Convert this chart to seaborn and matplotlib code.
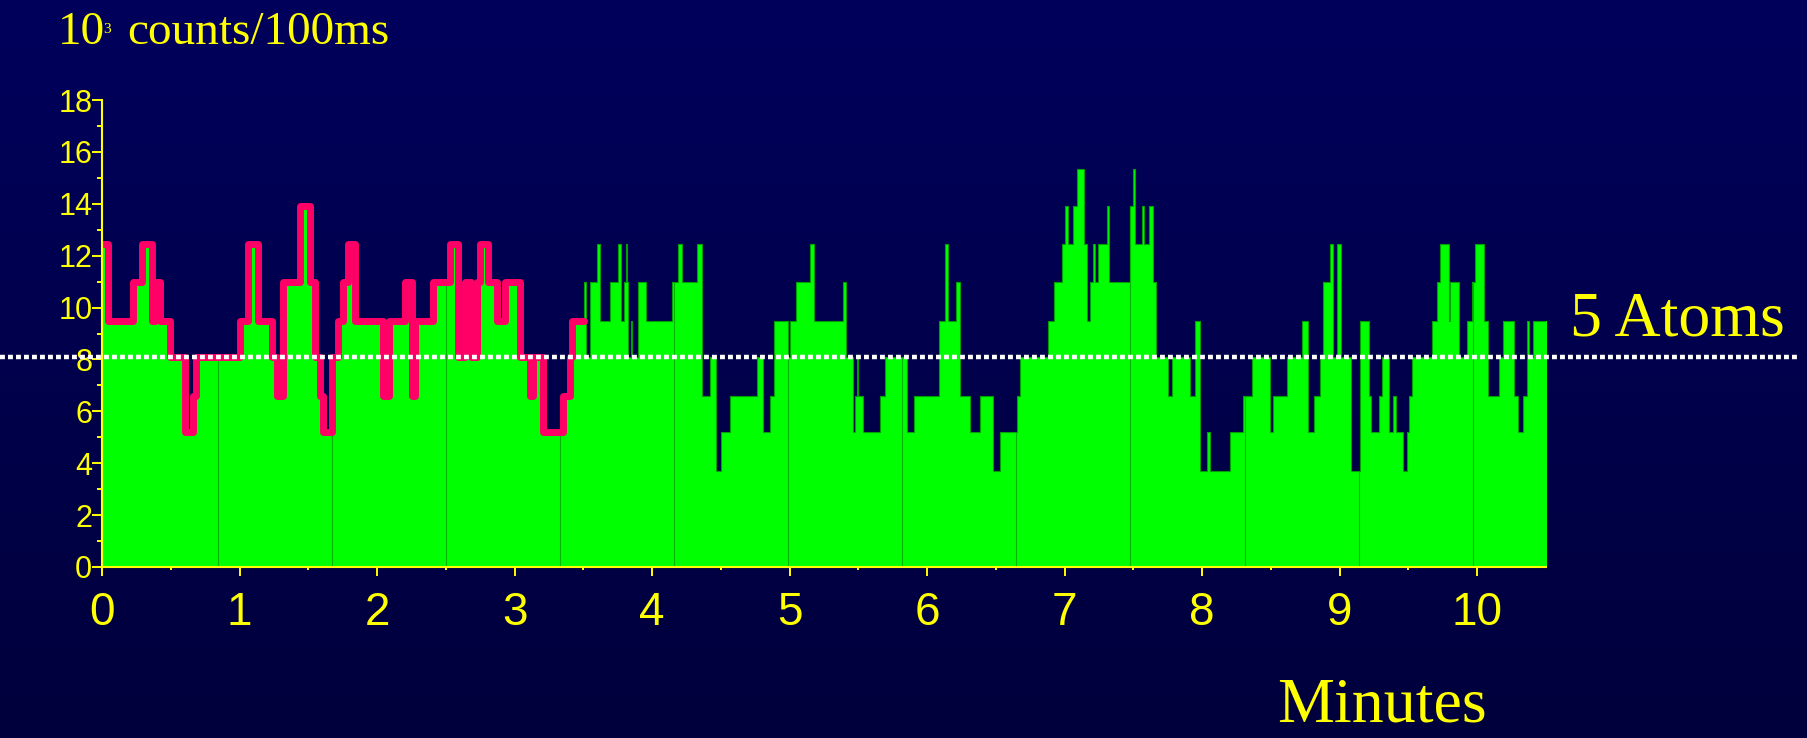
import numpy as np
import pandas as pd
import matplotlib
matplotlib.use("Agg")
import matplotlib.pyplot as plt
import matplotlib.transforms as mtransforms
from matplotlib.colors import LinearSegmentedColormap
import seaborn as sns

# Atom-number record: each segment starts at the given time (minutes)
seg_start = [
    0.000, 0.046, 0.228, 0.288, 0.361, 0.385, 0.422, 0.495, 0.604, 0.664,
    0.681, 1.004, 1.064, 1.137, 1.234, 1.270, 1.319, 1.440, 1.513, 1.549,
    1.585, 1.605, 1.670, 1.719, 1.755, 1.791, 1.840, 2.046, 2.090, 2.204,
    2.251, 2.275, 2.410, 2.531, 2.592, 2.640, 2.680, 2.724, 2.749, 2.810,
    2.870, 2.931, 3.040, 3.113, 3.137, 3.210, 3.355, 3.400, 3.420, 3.505,
    3.520, 3.545, 3.597, 3.620, 3.695, 3.755, 3.772, 3.796, 3.808, 3.815,
    3.827, 3.845, 3.857, 3.900, 3.954, 4.143, 4.190, 4.215, 4.325, 4.361,
    4.420, 4.465, 4.498, 4.567, 4.761, 4.810, 4.858, 4.890, 4.990, 5.000,
    5.050, 5.149, 5.178, 5.391, 5.410, 5.460, 5.476, 5.488, 5.494, 5.532,
    5.658, 5.694, 5.853, 5.901, 6.083, 6.130, 6.155, 6.211, 6.240, 6.313,
    6.385, 6.477, 6.531, 6.652, 6.676, 6.882, 6.923, 6.979, 7.003, 7.027,
    7.064, 7.088, 7.137, 7.161, 7.185, 7.205, 7.222, 7.246, 7.307, 7.326,
    7.472, 7.494, 7.508, 7.561, 7.578, 7.610, 7.641, 7.665, 7.755, 7.780,
    7.913, 7.948, 7.985, 8.033, 8.057, 8.204, 8.300, 8.361, 8.495, 8.514,
    8.616, 8.725, 8.773, 8.810, 8.858, 8.877, 8.931, 8.950, 8.980, 9.010,
    9.085, 9.149, 9.210, 9.227, 9.283, 9.307, 9.355, 9.387, 9.410, 9.459,
    9.488, 9.505, 9.525, 9.670, 9.706, 9.731, 9.792, 9.805, 9.865, 9.925,
    9.960, 9.985, 10.051, 10.080, 10.155, 10.187, 10.265, 10.300, 10.330, 10.360,
    10.380, 10.405,
]
seg_atoms = [
    8, 6, 7, 8, 6, 7, 6, 5, 3, 4,
    5, 6, 8, 6, 5, 4, 7, 9, 7, 5,
    4, 3, 5, 6, 7, 8, 6, 4, 6, 7,
    4, 6, 7, 8, 5, 7, 5, 7, 8, 7,
    6, 7, 5, 4, 5, 3, 4, 5, 6, 7,
    5, 7, 8, 6, 7, 8, 6, 7, 8, 7,
    5, 6, 5, 7, 6, 7, 8, 7, 8, 4,
    5, 2, 3, 4, 5, 3, 4, 6, 5, 6,
    7, 8, 6, 7, 5, 3, 4, 5, 4, 3,
    4, 5, 3, 4, 6, 8, 6, 7, 4, 3,
    4, 2, 3, 4, 5, 6, 7, 8, 9, 8,
    9, 10, 8, 6, 7, 8, 7, 8, 9, 7,
    9, 10, 8, 9, 8, 9, 7, 5, 4, 5,
    4, 6, 2, 3, 2, 3, 4, 5, 3, 4,
    5, 6, 3, 4, 5, 7, 8, 5, 8, 5,
    2, 6, 4, 3, 4, 5, 3, 4, 3, 2,
    3, 4, 5, 6, 7, 8, 6, 7, 5, 6,
    7, 8, 6, 4, 5, 6, 4, 3, 4, 6,
    5, 6,
]
trace_end = 10.507

# Fluorescence level (10^3 counts / 100 ms) for each atom number
atom_numbers = [2, 3, 4, 5, 6, 7, 8, 9, 10]
atom_counts = [3.7, 5.2, 6.6, 8.1, 9.5, 11.0, 12.45, 13.9, 15.35]

fit_end = 3.505          # extent of the step fit shown in pink
threshold = 8.1          # five-atom level
block_marks = [0.844, 1.673, 2.505, 3.333, 4.162, 4.991,
               5.820, 6.649, 7.476, 8.308, 9.137, 9.966]

x_ticks = list(range(0, 11))
x_minor = [k + 0.5 for k in range(0, 10)]
y_ticks = list(range(0, 19, 2))
y_minor = list(range(1, 18, 2))

YELLOW = "#FFFF00"
GREEN = "#00FF00"
PINK = "#FF0066"

sns.set_style("ticks")
plt.rcParams["font.family"] = ["Liberation Sans", "DejaVu Sans"]

# step trace
level_of = dict(zip(atom_numbers, atom_counts))
t = np.array(seg_start + [trace_end])
v = np.array([level_of[n] for n in seg_atoms] + [level_of[seg_atoms[-1]]])
trace = pd.DataFrame({"minutes": t, "counts": v})

keep = t < fit_end
fit = pd.DataFrame({"minutes": np.append(t[keep], fit_end),
                    "counts": np.append(v[keep], v[keep][-1])})

W, H, DPI = 1807, 738, 100
fig = plt.figure(figsize=(W / DPI, H / DPI), dpi=DPI)

# navy gradient backdrop
bg = fig.add_axes([0, 0, 1, 1], zorder=-10)
grad = np.linspace(0, 1, 256).reshape(-1, 1)
cmap = LinearSegmentedColormap.from_list("backdrop", ["#00005C", "#00003C"])
bg.imshow(grad, aspect="auto", cmap=cmap, extent=[0, 1, 0, 1], origin="upper")
bg.axis("off")

ax = fig.add_axes([102 / W, (H - 567) / H, 1444 / W, 467 / H])
ax.set_facecolor("none")

ax.fill_between(trace["minutes"], 0, trace["counts"], step="post",
                color=GREEN, lw=0, zorder=2)
sns.lineplot(data=trace, x="minutes", y="counts", drawstyle="steps-post",
             color="#00A000", lw=0.8, sort=False, estimator=None, ax=ax, zorder=3)

idx = np.searchsorted(t, block_marks, side="right") - 1
ax.vlines(block_marks, 0, v[idx], color="#00B400", lw=0.8, zorder=3)

sns.lineplot(data=fit, x="minutes", y="counts", drawstyle="steps-post",
             color=PINK, lw=5, sort=False, estimator=None, ax=ax, zorder=4)

# five-atom threshold across the whole slide
blend = mtransforms.blended_transform_factory(ax.transAxes, ax.transData)
ax.plot([-102 / 1444, (1797 - 102) / 1444], [threshold, threshold],
        transform=blend, color="white", lw=3.2, dashes=(1.1, 0.7),
        dash_capstyle="butt", clip_on=False, zorder=5)

ax.set_xlim(0, 10.5)
ax.set_ylim(0, 18)
ax.set_xlabel("")
ax.set_ylabel("")
ax.set_xticks(x_ticks)
ax.set_xticks(x_minor, minor=True)
ax.set_yticks(y_ticks)
ax.set_yticks(y_minor, minor=True)
for side in ("top", "right"):
    ax.spines[side].set_visible(False)
for side in ("left", "bottom"):
    ax.spines[side].set_color(YELLOW)
    ax.spines[side].set_linewidth(1.5)
    ax.spines[side].set_zorder(6)

ax.tick_params(which="both", colors=YELLOW, direction="out", width=1.4)
ax.tick_params(axis="x", which="major", length=6.5, labelsize=33, pad=11)
ax.tick_params(axis="x", which="minor", length=2.2)
ax.tick_params(axis="y", which="major", length=7, labelsize=22, pad=0)
ax.tick_params(axis="y", which="minor", length=3.6)

serif = ["Liberation Serif", "DejaVu Serif"]
def fig_text(x, y, s, size):
    fig.text(x / W, 1 - y / H, s, size=size, family=serif, color=YELLOW,
             va="baseline", ha="left")

fig_text(58, 44, "10", 34)
fig_text(103, 33, "3", 11)
fig_text(127, 44, "counts/100ms", 34)
fig_text(1570, 336, "5 Atoms", 46)
fig_text(1277, 722, "Minutes", 46)

fig.savefig("out.png", dpi=DPI)
